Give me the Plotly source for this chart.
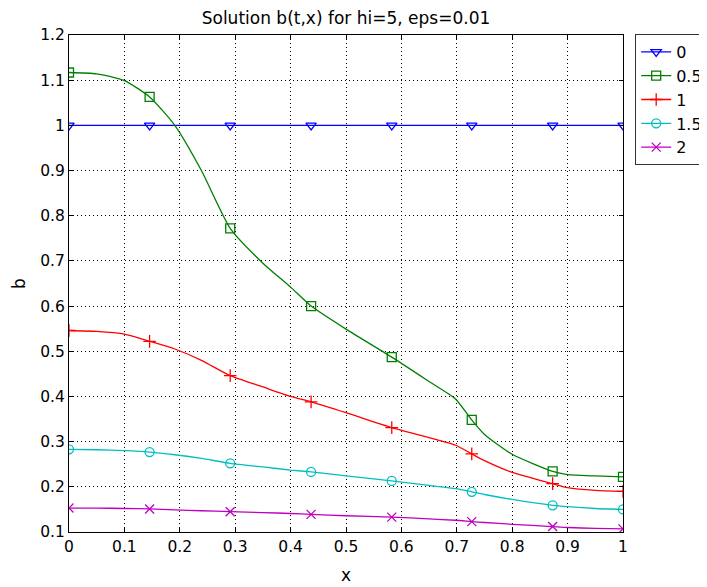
import plotly.graph_objects as go

# ---- data ----
series_names = ["0", "0.5", "1", "1.5", "2"]

curve_x = [0.0, 0.05, 0.1, 0.1455, 0.191, 0.239, 0.291, 0.35, 0.4, 0.437, 0.5,
           0.5826, 0.65, 0.698, 0.727, 0.75, 0.8, 0.873, 0.9, 0.95, 1.0]

b_t0 = [1.0] * len(curve_x)
b_t05 = [1.117, 1.114, 1.099, 1.063, 1.0, 0.9, 0.772, 0.695, 0.642, 0.600, 0.549,
         0.487, 0.433, 0.394, 0.348, 0.316, 0.272, 0.234, 0.227, 0.224, 0.222]
b_t1 = [0.546, 0.544, 0.538, 0.522, 0.505, 0.480, 0.446, 0.421, 0.400, 0.388, 0.364,
        0.331, 0.309, 0.292, 0.273, 0.258, 0.232, 0.207, 0.198, 0.192, 0.190]
b_t15 = [0.283, 0.282, 0.280, 0.277, 0.271, 0.263, 0.252, 0.244, 0.237, 0.233, 0.224,
         0.213, 0.203, 0.196, 0.189, 0.183, 0.172, 0.159, 0.156, 0.152, 0.150]
b_t2 = [0.153, 0.153, 0.152, 0.151, 0.149, 0.147, 0.145, 0.143, 0.141, 0.139, 0.136,
        0.133, 0.129, 0.126, 0.123, 0.121, 0.117, 0.112, 0.110, 0.108, 0.107]

marker_x = [0.0, 0.1455, 0.291, 0.437, 0.5826, 0.727, 0.873, 1.0]
m_t0 = [1.0, 1.0, 1.0, 1.0, 1.0, 1.0, 1.0, 1.0]
m_t05 = [1.117, 1.063, 0.772, 0.600, 0.487, 0.348, 0.234, 0.222]
m_t1 = [0.546, 0.522, 0.446, 0.388, 0.331, 0.273, 0.207, 0.190]
m_t15 = [0.283, 0.277, 0.252, 0.233, 0.213, 0.189, 0.159, 0.150]
m_t2 = [0.153, 0.151, 0.145, 0.139, 0.133, 0.123, 0.112, 0.107]

curves = [b_t0, b_t05, b_t1, b_t15, b_t2]
marks = [m_t0, m_t05, m_t1, m_t15, m_t2]
colors = ["#0000ff", "#008000", "#ff0000", "#00bfbf", "#bf00bf"]
symbols = ["triangle-down-open", "square-open", "cross-thin-open", "circle-open", "x-thin-open"]

FONT = "DejaVu Sans"

fig = go.Figure()
for name, cy, my, col, sym in zip(series_names, curves, marks, colors, symbols):
    fig.add_trace(go.Scatter(x=curve_x, y=cy, mode="lines", line=dict(color=col, width=1.3, shape="spline", smoothing=0.6),
                             showlegend=False, hoverinfo="skip"))
    fig.add_trace(go.Scatter(x=marker_x, y=my, mode="markers",
                             marker=dict(symbol=sym, color=col, size=9, line=dict(color=col, width=1.3)),
                             showlegend=False))
    fig.add_trace(go.Scatter(x=[None], y=[None], mode="lines+markers", name=name,
                             line=dict(color=col, width=1.3),
                             marker=dict(symbol=sym, color=col, size=9, line=dict(color=col, width=1.3))))

axis_common = dict(showline=True, linecolor="black", linewidth=1, mirror="allticks",
                   ticks="inside", ticklen=4, tickcolor="black", showgrid=True,
                   gridcolor="black", griddash="1px,3px", gridwidth=1, zeroline=False,
                   tickfont=dict(family=FONT, size=15.5, color="black"), dtick=0.1, automargin=False)

# page body has an 8px margin, so the figure is sized 8px smaller
fig.update_layout(
    width=699, height=579,
    margin=dict(l=61, r=84, t=27, b=55, autoexpand=False),
    paper_bgcolor="white", plot_bgcolor="white",
    font=dict(family=FONT, size=15, color="black"),
    title=dict(text="Solution b(t,x) for hi=5, eps=0.01", x=0.5, xref="paper", xanchor="center",
               y=1 - 10 / 579, yref="container", yanchor="middle", font=dict(family=FONT, size=17)),
    xaxis=dict(range=[0, 1], tick0=0, title=dict(text="x", font=dict(family=FONT, size=17), standoff=14), **axis_common),
    yaxis=dict(range=[0.1, 1.2], tick0=0.1, title=dict(text="b", font=dict(family=FONT, size=17), standoff=10), **axis_common),
    legend=dict(x=1.022, y=1.002, xanchor="left", yanchor="top", bordercolor="#333333", borderwidth=1,
                bgcolor="white", font=dict(family=FONT, size=16), tracegroupgap=0),
)

fig.write_html("out.html")
